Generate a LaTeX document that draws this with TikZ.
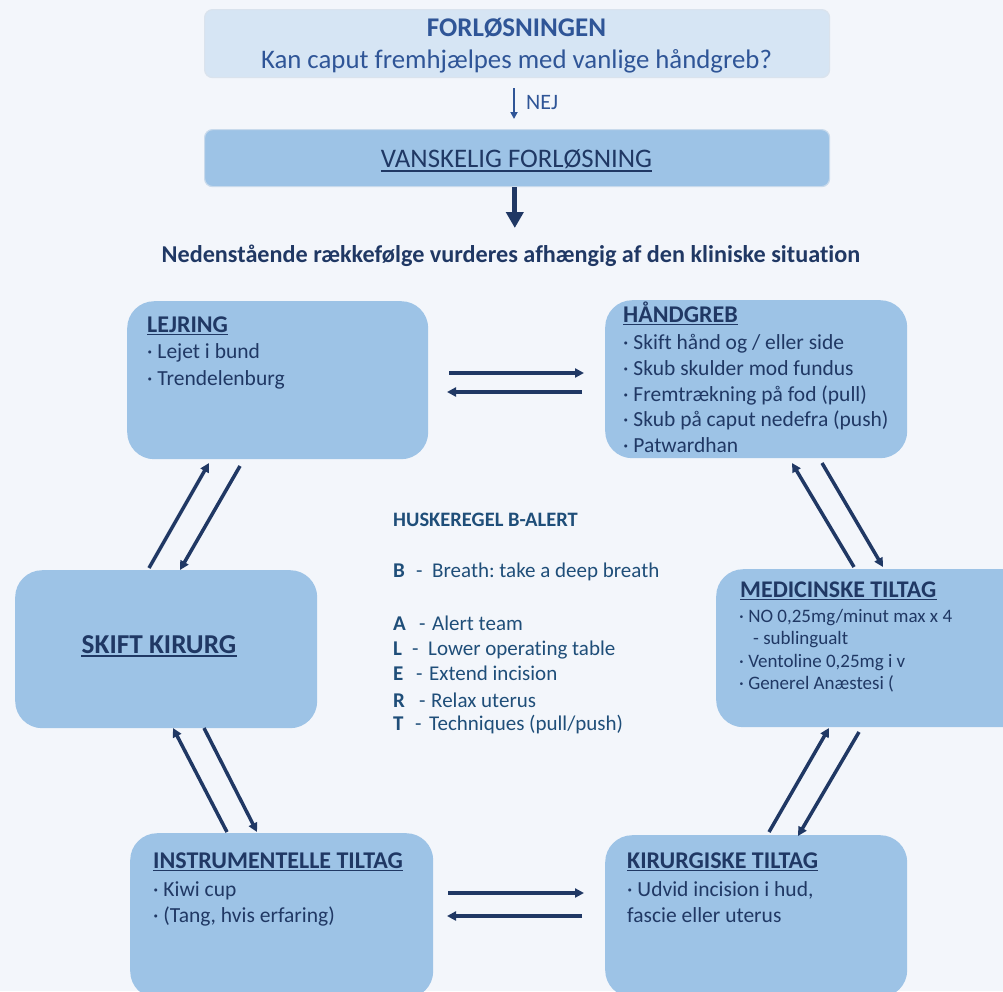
\documentclass[tikz,border=0pt]{standalone}
\usepackage{fontspec}
\setmainfont{Carlito}[Ligatures=NoCommon]
\frenchspacing
\usetikzlibrary{arrows.meta}
\definecolor{bg}{HTML}{F3F6FB}
\definecolor{topfill}{HTML}{D6E5F4}
\definecolor{topline}{HTML}{DAE3ED}
\definecolor{boxblue}{HTML}{9DC3E6}
\definecolor{boxline}{HTML}{C8DAEC}
\definecolor{navy}{HTML}{203864}
\definecolor{midblue}{HTML}{2F5597}
\definecolor{teal}{HTML}{1F4E79}
\newcommand\myul[2][2.6pt]{\draw[navy, line width=1.4pt] ([yshift=-#1]#2.base west) -- ([yshift=-#1]#2.base east);}
\tikzset{
  box/.style={fill=boxblue, draw=none, rounded corners=27pt, anchor=north west, inner sep=0pt},
  banner/.style={rounded corners=8pt, anchor=north west, inner sep=0pt, line width=1.2pt},
  txt/.style={anchor=base west, inner sep=0pt, text=navy, font=\fontsize{21.5pt}{26pt}\selectfont},
  small/.style={anchor=base west, inner sep=0pt, text=navy, font=\fontsize{19pt}{23pt}\selectfont},
  ttl/.style={anchor=base west, inner sep=0pt, text=navy, font=\fontsize{24pt}{28pt}\selectfont\bfseries},
  hk/.style={anchor=base west, inner sep=0pt, text=teal, font=\fontsize{21pt}{25pt}\selectfont},
  conn/.style={draw=navy, line width=3.5pt, -{Triangle[length=9pt,width=9pt]}},
}
\begin{document}
\begin{tikzpicture}[x=1pt,y=-1pt]
\useasboundingbox (0,0) rectangle (1003,991);
\fill[bg] (0,0) rectangle (1003,991);
\clip (0,0) rectangle (1003,991);

% top banners
\node[banner, fill=topfill, draw=topline, minimum width=625pt, minimum height=68pt] (forl) at (204,9) {};
\node[anchor=base, inner sep=0pt, text=midblue, font=\fontsize{27pt}{32pt}\selectfont\bfseries] (forlt) at (516.5,36) {FORLØSNINGEN};
\node[anchor=base, inner sep=0pt, text=midblue, font=\fontsize{26.8pt}{32pt}\selectfont] (forlq) at (516.5,68) {Kan caput fremhjælpes med vanlige håndgreb?};

\node[banner, fill=boxblue, draw=boxline, minimum width=625pt, minimum height=57pt] (vansk) at (204,129) {};
\node[anchor=base, inner sep=0pt, text=navy, font=\fontsize{26.8pt}{32pt}\selectfont] (vanskt) at (516.5,167) {VANSKELIG FORLØSNING};
\myul[4pt]{vanskt}

% NEJ arrow
\coordinate (nejA) at (514,88);
\coordinate (nejB) at (514,119);
\draw[draw=midblue, line width=1.8pt, -{Triangle[length=7pt,width=7pt]}] (nejA) -- (nejB);
\node[anchor=base west, inner sep=0pt, text=midblue, font=\fontsize{22pt}{26pt}\selectfont] (nej) at (526,109) {NEJ};

% thick arrow
\coordinate (thA) at (514.8,187);
\coordinate (thB) at (514.8,228);
\draw[draw=navy, line width=5pt, -{Triangle[length=16pt,width=17pt]}] (thA) -- (thB);

\node[anchor=base, inner sep=0pt, text=navy, font=\fontsize{24.2pt}{28pt}\selectfont\bfseries] (neden) at (511,262) {Nedenstående rækkefølge vurderes afhængig af den kliniske situation};

% boxes
\node[box, minimum width=301pt, minimum height=158pt] (lejring) at (127,301) {};
\node[box, minimum width=302pt, minimum height=158pt] (haand) at (605,300) {};
\node[box, minimum width=302pt, minimum height=158pt] (skift) at (15,570) {};
\node[box, minimum width=330pt, minimum height=158pt] (med) at (716,569) {};
\node[box, minimum width=303pt, minimum height=165pt] (instr) at (130,833) {};
\node[box, minimum width=302pt, minimum height=162pt] (kir) at (605,835) {};

% LEJRING text
\node[ttl] (lejt) at (147,332) {LEJRING};
\myul{lejt}
\node[txt] (lej1) at (147,358) {· Lejet i bund};
\node[txt] (lej2) at (147,385) {· Trendelenburg};

% HÅNDGREB text
\node[ttl] (haat) at (623,322) {HÅNDGREB};
\myul{haat}
\node[txt] (haa1) at (623,349) {· Skift hånd og / eller side};
\node[txt] (haa2) at (623,375) {· Skub skulder mod fundus};
\node[txt] (haa3) at (623,401) {· Fremtrækning på fod (pull)};
\node[txt] (haa4) at (623,426) {· Skub på caput nedefra (push)};
\node[txt] (haa5) at (623,452) {· Patwardhan};

% SKIFT KIRURG
\node[anchor=base, inner sep=0pt, text=navy, font=\fontsize{27.3pt}{32pt}\selectfont\bfseries] (skiftt) at (159,653) {SKIFT KIRURG};
\myul[3pt]{skiftt}

% MEDICINSKE
\node[ttl, font=\fontsize{23.9pt}{28pt}\selectfont\bfseries] (medt) at (740,597) {MEDICINSKE TILTAG};
\myul{medt}
\node[small] (med1) at (739,622) {· NO 0,25mg/minut max x 4};
\node[small] (med2) at (753,644) {- sublingualt};
\node[small] (med3) at (739,667) {· Ventoline 0,25mg i v};
\node[small] (med4) at (739,689) {· Generel Anæstesi (};

% INSTRUMENTELLE
\node[ttl] (instrt) at (153,868) {INSTRUMENTELLE TILTAG};
\myul{instrt}
\node[txt] (instr1) at (153,896) {· Kiwi cup};
\node[txt] (instr2) at (153,922) {· (Tang, hvis erfaring)};

% KIRURGISKE
\node[ttl] (kirt) at (627,868) {KIRURGISKE TILTAG};
\myul{kirt}
\node[txt] (kir1) at (627,896) {· Udvid incision i hud,};
\node[txt] (kir2) at (627,922) {fascie eller uterus};

% HUSKEREGEL
\node[hk, font=\fontsize{20.5pt}{25pt}\selectfont\bfseries] (husk) at (393,526) {HUSKEREGEL B-ALERT};
\foreach \l/\y/\dx/\wx/\w in {B/577/416/432/{Breath: take a deep breath},
                               A/630/419/432/{Alert team},
                               L/655/412/428/{Lower operating table},
                               E/680/416/429/{Extend incision},
                               R/707/419/431/{Relax uterus},
                               T/730/415/429/{Techniques (pull/push)}}{
  \node[hk, font=\fontsize{21pt}{25pt}\selectfont\bfseries] (hl\l) at (393,\y) {\l};
  \node[hk] (hd\l) at (\dx,\y) {-};
  \node[hk] (hw\l) at (\wx,\y) {\w};
}

% connectors
\coordinate (c1a) at (449,373); \coordinate (c1b) at (584,373);
\coordinate (c2a) at (582,392); \coordinate (c2b) at (447,392);
\draw[conn] (c1a) -- (c1b);
\draw[conn] (c2a) -- (c2b);

\coordinate (c3a) at (149,568); \coordinate (c3b) at (209,463);
\coordinate (c4a) at (240,466); \coordinate (c4b) at (180,570);
\draw[conn] (c3a) -- (c3b);
\draw[conn] (c4a) -- (c4b);

\coordinate (c5a) at (854,567); \coordinate (c5b) at (792,463);
\coordinate (c6a) at (822,463); \coordinate (c6b) at (883,567);
\draw[conn] (c5a) -- (c5b);
\draw[conn] (c6a) -- (c6b);

\coordinate (c7a) at (769,832); \coordinate (c7b) at (829,728);
\coordinate (c8a) at (859,732); \coordinate (c8b) at (798,836);
\draw[conn] (c7a) -- (c7b);
\draw[conn] (c8a) -- (c8b);

\coordinate (c9a) at (227,832); \coordinate (c9b) at (173,728);
\coordinate (c10a) at (204,728); \coordinate (c10b) at (257,832);
\draw[conn] (c9a) -- (c9b);
\draw[conn] (c10a) -- (c10b);

\coordinate (c11a) at (448,893); \coordinate (c11b) at (584,893);
\coordinate (c12a) at (582,916); \coordinate (c12b) at (447,916);
\draw[conn] (c11a) -- (c11b);
\draw[conn] (c12a) -- (c12b);
\end{tikzpicture}
\end{document}
